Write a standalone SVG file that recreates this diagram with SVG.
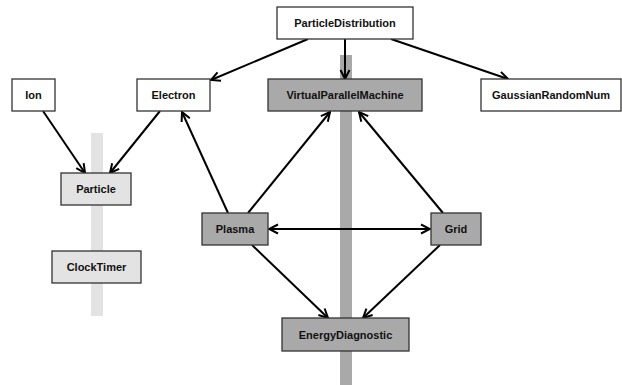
<svg xmlns="http://www.w3.org/2000/svg" width="622" height="385" viewBox="0 0 622 385">
  <style>
    .box rect { stroke: #333; stroke-width: 1.3; }
    .white rect { fill: #ffffff; }
    .light rect { fill: #e3e3e3; }
    .dark rect { fill: #a9a9a9; }
    .box text { font-family: "Liberation Sans", Arial, sans-serif; font-weight: bold; font-size: 11px; fill: #111; text-anchor: middle; dominant-baseline: central; }
    .edge { stroke: #000; stroke-width: 2; fill: none; marker-end: url(#arrow); }
    .both { marker-start: url(#arrowStart); }
  </style>
  <defs>
    <marker id="arrow" viewBox="0 0 12 12" refX="11" refY="6" markerWidth="12" markerHeight="12" markerUnits="userSpaceOnUse" orient="auto">
      <path d="M2,1.5 L11,6 L2,10.5" fill="none" stroke="#000" stroke-width="2"/>
    </marker>
    <marker id="arrowStart" viewBox="0 0 12 12" refX="11" refY="6" markerWidth="12" markerHeight="12" markerUnits="userSpaceOnUse" orient="auto-start-reverse">
      <path d="M2,1.5 L11,6 L2,10.5" fill="none" stroke="#000" stroke-width="2"/>
    </marker>
  </defs>

  <rect width="622" height="385" fill="#ffffff"/>

  <!-- background rails -->
  <rect x="91" y="133" width="12" height="183" fill="#e3e3e3"/>
  <rect x="340" y="55" width="12" height="330" fill="#a9a9a9"/>

  <!-- connectors -->
  <g id="connectors">
    <line class="edge" x1="308" y1="39" x2="211" y2="80"/>
    <line class="edge" x1="345" y1="39" x2="345" y2="79"/>
    <line class="edge" x1="391" y1="39" x2="508" y2="79"/>
    <line class="edge" x1="43" y1="111" x2="85" y2="173"/>
    <line class="edge" x1="160" y1="111" x2="110" y2="173"/>
    <line class="edge" x1="228" y1="213" x2="182" y2="112"/>
    <line class="edge" x1="248" y1="213" x2="330" y2="112"/>
    <line class="edge" x1="443" y1="213" x2="359" y2="112"/>
    <line class="edge both" x1="269" y1="229" x2="430" y2="229"/>
    <line class="edge" x1="252" y1="245" x2="328" y2="318"/>
    <line class="edge" x1="440" y1="245" x2="363" y2="318"/>
  </g>

  <!-- nodes -->
  <g id="ParticleDistribution" class="box white">
    <rect x="277" y="7" width="136" height="32"/>
    <text x="345" y="23">ParticleDistribution</text>
  </g>
  <g id="Ion" class="box white">
    <rect x="12" y="79" width="43" height="32"/>
    <text x="33.5" y="95">Ion</text>
  </g>
  <g id="Electron" class="box white">
    <rect x="137" y="79" width="73" height="32"/>
    <text x="173.5" y="95">Electron</text>
  </g>
  <g id="VirtualParallelMachine" class="box dark">
    <rect x="268" y="79" width="154" height="32"/>
    <text x="345" y="95">VirtualParallelMachine</text>
  </g>
  <g id="GaussianRandomNum" class="box white">
    <rect x="481" y="79" width="140" height="32"/>
    <text x="551" y="95">GaussianRandomNum</text>
  </g>
  <g id="Particle" class="box light">
    <rect x="61" y="173" width="70" height="32"/>
    <text x="96" y="189">Particle</text>
  </g>
  <g id="ClockTimer" class="box light">
    <rect x="52" y="251" width="89" height="32"/>
    <text x="96.5" y="267">ClockTimer</text>
  </g>
  <g id="Plasma" class="box dark">
    <rect x="202" y="213" width="66" height="32"/>
    <text x="235" y="229">Plasma</text>
  </g>
  <g id="Grid" class="box dark">
    <rect x="431" y="213" width="50" height="32"/>
    <text x="456" y="229">Grid</text>
  </g>
  <g id="EnergyDiagnostic" class="box dark">
    <rect x="282" y="318" width="127" height="33"/>
    <text x="345.5" y="334.5">EnergyDiagnostic</text>
  </g>
</svg>
